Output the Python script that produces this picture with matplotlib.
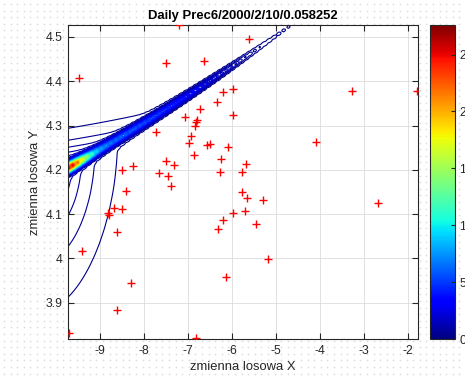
import numpy as np
import matplotlib
matplotlib.use('Agg')
from matplotlib import pyplot as plt
from matplotlib import colors, cm

plt.rcParams['font.family'] = ['Liberation Sans', 'DejaVu Sans']
plt.rcParams['axes.unicode_minus'] = False

# losowe punkty (czerwone plusy)
pts_x = [-7.21, -5.62, -7.50, -6.64, -9.49, -3.27, -1.80, -6.21, -5.98, -6.33,
         -6.73, -5.98, -7.07, -6.79, -6.82, -6.85, -7.72, -6.94, -6.97, -6.56,
         -6.49, -6.08, -6.86, -6.25, -7.50, -7.32, -8.25, -8.50, -6.27, -7.65,
         -7.46, -5.78, -5.69, -7.38, -5.78, -5.67, -5.30, -8.42, -8.83, -8.80,
         -8.68, -8.51, -5.97, -5.71, -6.21, -6.31, -5.46, -8.61, -9.42, -5.19,
         -6.13, -8.30, -8.61, -9.71, -6.81, -2.68, -4.10]
pts_y = [4.527, 4.495, 4.441, 4.446, 4.408, 4.378, 4.379, 4.376, 4.382, 4.353,
         4.338, 4.324, 4.320, 4.313, 4.307, 4.299, 4.286, 4.276, 4.260, 4.256,
         4.258, 4.252, 4.233, 4.224, 4.219, 4.210, 4.209, 4.200, 4.196, 4.192,
         4.186, 4.194, 4.213, 4.164, 4.151, 4.137, 4.132, 4.152, 4.103, 4.098,
         4.113, 4.111, 4.102, 4.107, 4.086, 4.066, 4.077, 4.060, 4.016, 3.999,
         3.957, 3.944, 3.884, 3.831, 3.820, 4.124, 4.262]

title = 'Daily Prec6/2000/2/10/0.058252'
x_label = 'zmienna losowa X'
y_label = 'zmienna losowa Y'
x_lim = (-9.73, -1.77)
y_lim = (3.818, 4.527)
x_ticks = [-9, -8, -7, -6, -5, -4, -3, -2]
y_ticks = [3.9, 4.0, 4.1, 4.2, 4.3, 4.4, 4.5]
cbar_ticks = [0, 5, 10, 15, 20, 25]
z_max = 27.6
n_levels = 100

# parametry gestosci (grzbiet + skrzydlo + dolny plat)
ridge_y0, ridge_b, ridge_c = 4.204, 0.056, 0.0015
core_a, core_len = 5.0, 3.3
tail_a, tail_tau = 0.5, 12.0
spike_a, spike_len = 17.3, 0.45
core_sig0, core_sig_slope, core_sig_min = 0.007, 0.0006, 0.003
wing_a, wing_tau, wing_lam = 2.76, 0.98, 0.039
blob_a, blob_s, blob_tau, blob_lam = 1.77, -0.27, 0.75, 0.16
edge_lam = 0.004

x_grid = np.linspace(x_lim[0], x_lim[1], 74)
y_grid = np.linspace(y_lim[0], y_lim[1], 600)
X, Y = np.meshgrid(x_grid, y_grid)
s = X - x_lim[0]
r = Y - (ridge_y0 + ridge_b * s + ridge_c * s ** 2)
sig = np.maximum(core_sig0 - core_sig_slope * s, core_sig_min)
peak = (core_a * np.exp(-(s / core_len) ** 4) + tail_a * np.exp(-s / tail_tau)
        + spike_a * np.exp(-(s / spike_len) ** 2))
core = peak * np.exp(-0.5 * (r / sig) ** 2)
wing = wing_a * np.exp(-s / wing_tau) * np.exp(-np.where(r > 0, r / wing_lam, -r / edge_lam))
blob = blob_a * np.exp(-np.sqrt(((s - blob_s) / blob_tau) ** 2 + np.where(r < 0, r / blob_lam, r / edge_lam) ** 2))
Z = core + wing + blob

W, H = 465, 379
fig = plt.figure(figsize=(W / 100, H / 100), dpi=100, facecolor='white')

# kropkowane tlo
bg = fig.add_axes([0, 0, 1, 1], zorder=-10)
gx, gy = np.meshgrid(np.arange(4, W, 6.6), np.arange(4, H, 6.6))
bg.scatter(gx.ravel(), gy.ravel(), s=1.6, c='#dedede', linewidths=0)
bg.set_xlim(0, W)
bg.set_ylim(H, 0)
bg.axis('off')

ax = fig.add_axes([68 / W, 1 - 339 / H, 350 / W, 314 / H], zorder=1)
ax.set_facecolor('white')
norm = colors.Normalize(0, z_max)
levels = np.arange(1, n_levels) * z_max / n_levels
ax.contour(X, Y, Z, levels=levels, cmap='jet', norm=norm, linewidths=0.8)
ax.plot(pts_x, pts_y, '+', color='red', markersize=5.5, mew=1.0, zorder=5)

ax.set_xlim(*x_lim)
ax.set_ylim(*y_lim)
ax.set_xticks(x_ticks)
ax.set_yticks(y_ticks)
ax.set_xticklabels(['%g' % v for v in x_ticks])
ax.set_yticklabels(['%g' % v for v in y_ticks])
ax.grid(True, color='#dcdcdc', linewidth=0.6)
ax.set_axisbelow(True)
ax.tick_params(direction='in', top=True, right=True, length=4, width=0.8,
               labelsize=8.8, colors='#262626', pad=4)
for sp in ax.spines.values():
    sp.set_color('#262626')
    sp.set_linewidth(0.8)
ax.set_title(title, fontsize=9.4, fontweight='bold', pad=4)
ax.set_xlabel(x_label, fontsize=9.4, color='#262626', labelpad=3)
ax.set_ylabel(y_label, fontsize=9.4, color='#262626', labelpad=3)

cax = fig.add_axes([430 / W, 1 - 339 / H, 25 / W, 314 / H], zorder=1)
sm = cm.ScalarMappable(norm=norm, cmap='jet')
cb = fig.colorbar(sm, cax=cax, ticks=cbar_ticks)
cb.ax.tick_params(direction='in', length=3, width=0.8, labelsize=8.8, colors='#262626', pad=3)
cb.outline.set_edgecolor('#262626')
cb.outline.set_linewidth(0.8)

fig.savefig('out.png', dpi=100, facecolor='white')
